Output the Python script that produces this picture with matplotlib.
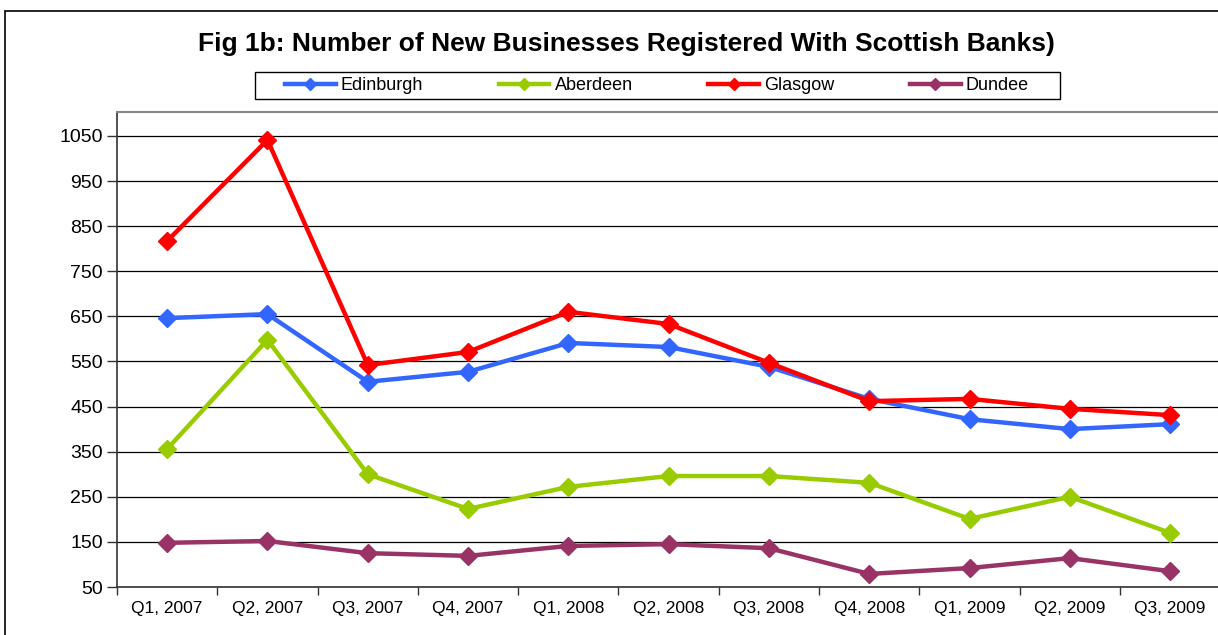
import matplotlib
matplotlib.use("Agg")
import matplotlib.pyplot as plt
from matplotlib.patches import Rectangle
from matplotlib.lines import Line2D

plt.rcParams['font.family'] = ['Liberation Sans', 'DejaVu Sans']

quarters = ["Q1, 2007", "Q2, 2007", "Q3, 2007", "Q4, 2007", "Q1, 2008", "Q2, 2008",
            "Q3, 2008", "Q4, 2008", "Q1, 2009", "Q2, 2009", "Q3, 2009"]
edinburgh = [646, 655, 505, 527, 591, 582, 538, 467, 422, 400, 411]
aberdeen = [356, 598, 300, 223, 272, 296, 296, 281, 201, 250, 170]
glasgow = [817, 1041, 542, 571, 660, 633, 547, 462, 467, 445, 431]
dundee = [148, 152, 125, 119, 141, 145, 136, 79, 92, 114, 85]
series_names = ["Edinburgh", "Aberdeen", "Glasgow", "Dundee"]
series_colors = ["#3366FF", "#99CC00", "#FF0000", "#993366"]
yticks = [50, 150, 250, 350, 450, 550, 650, 750, 850, 950, 1050]

W, H = 1218, 635
fig = plt.figure(figsize=(W / 100, H / 100), dpi=100)

# outer chart frame
fig.patches.append(Rectangle((5 / W, -0.1), 1.2, 1 - 11 / H + 0.1, transform=fig.transFigure,
                             fill=False, edgecolor="black", linewidth=1.2, zorder=0))

ax = fig.add_axes([117 / W, 1 - 587 / H, (11 * 100.3) / W, (587 - 112) / H])
x = list(range(len(quarters)))
data = [edinburgh, aberdeen, glasgow, dundee]
for vals, name, col in zip(data, series_names, series_colors):
    ax.plot(x, vals, color=col, linewidth=3.2, marker="D", markersize=9,
            markeredgecolor=col, label=name, zorder=3)

ax.set_xlim(-0.5, 10.5)
ax.set_ylim(50, 1103)
ax.set_yticks(yticks)
ax.set_yticklabels([str(v) for v in yticks], fontsize=14)
ax.set_xticks([i + 0.5 for i in range(-1, 11)])
ax.set_xticklabels([])
ax.set_xticks(x, minor=True)
ax.set_xticklabels(quarters, minor=True, fontsize=12.5)
ax.tick_params(axis="x", which="minor", length=0, pad=10)
ax.tick_params(axis="x", which="major", length=6, width=1, direction="out", color="#333333")
ax.tick_params(axis="y", length=7, width=1, direction="out", color="#333333", pad=3)
ax.grid(axis="y", color="black", linewidth=0.9)
ax.set_axisbelow(True)
for side in ["left", "bottom"]:
    ax.spines[side].set_color("#333333")
    ax.spines[side].set_linewidth(1.2)
ax.spines["top"].set_color("#888888")
ax.spines["top"].set_linewidth(1.5)
ax.spines["right"].set_visible(False)

fig.text(626 / W, 1 - 44 / H, "Fig 1b: Number of New Businesses Registered With Scottish Banks)",
         ha="center", va="center", fontsize=19, fontweight="bold")

# legend
handles = [Line2D([0], [0], color=c, linewidth=3.2, marker="D", markersize=6, markeredgecolor=c)
           for c in series_colors]
leg = fig.legend(handles, series_names, loc="center", bbox_to_anchor=(657 / W, 1 - 85.5 / H),
                 ncol=4, frameon=False, fontsize=13, handlelength=2.8, handletextpad=0.28,
                 columnspacing=4.2)
fig.patches.append(Rectangle((255 / W, 1 - 99 / H), (1060 - 255) / W, 27 / H,
                             transform=fig.transFigure, fill=False, edgecolor="black", linewidth=1.0))

fig.savefig("out.png", dpi=100)
